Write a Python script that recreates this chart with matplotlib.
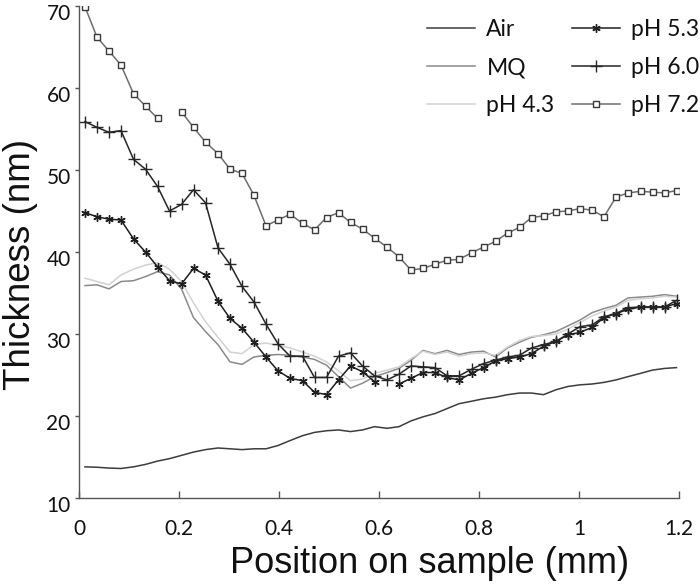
import numpy as np
import matplotlib
matplotlib.use("Agg")
import matplotlib.pyplot as plt
import matplotlib.transforms as mtransforms

# ---------------- data ----------------
position_mm = [0.012, 0.036, 0.060, 0.084, 0.109, 0.133, 0.157, 0.181, 0.205, 0.229,
               0.253, 0.278, 0.302, 0.326, 0.350, 0.374, 0.398, 0.422, 0.447, 0.471,
               0.495, 0.519, 0.543, 0.567, 0.591, 0.616, 0.640, 0.664, 0.688, 0.712,
               0.736, 0.760, 0.785, 0.809, 0.833, 0.857, 0.881, 0.905, 0.929, 0.954,
               0.978, 1.002, 1.026, 1.050, 1.074, 1.098, 1.123, 1.147, 1.171, 1.195]

air = [13.8, 13.75, 13.65, 13.6, 13.8, 14.1, 14.5, 14.8, 15.2, 15.6,
       15.9, 16.1, 16.0, 15.9, 16.0, 16.0, 16.4, 17.0, 17.6, 18.0,
       18.2, 18.3, 18.1, 18.3, 18.7, 18.5, 18.7, 19.4, 19.9, 20.3,
       20.9, 21.5, 21.8, 22.1, 22.3, 22.6, 22.8, 22.8, 22.6, 23.2,
       23.6, 23.8, 23.9, 24.1, 24.4, 24.8, 25.2, 25.6, 25.8, 25.9]

mq = [35.9, 36.0, 35.5, 36.4, 36.5, 37.0, 37.6, 37.2, 35.5, 32.0,
      30.3, 28.7, 26.6, 26.3, 27.2, 27.4, 27.5, 27.4, 27.2, 26.9,
      26.2, 24.8, 23.4, 24.0, 24.8, 25.3, 25.8, 26.8, 28.0, 27.6,
      28.0, 27.5, 27.8, 27.9, 27.2, 28.3, 29.0, 29.6, 29.9, 30.3,
      31.0, 31.7, 32.6, 33.1, 33.5, 34.4, 34.5, 34.6, 34.8, 34.6]

ph43 = [36.8, 36.4, 36.0, 37.2, 37.9, 38.4, 38.7, 37.9, 36.4, 33.8,
        31.5, 29.6, 27.8, 27.6, 28.7, 28.9, 28.6, 28.3, 27.8, 27.3,
        26.6, 25.5, 24.3, 24.5, 25.2, 25.6, 26.0, 27.0, 27.9, 27.5,
        27.8, 27.3, 27.6, 27.7, 27.4, 28.4, 29.2, 29.7, 29.8, 30.0,
        30.6, 31.4, 32.2, 32.8, 33.3, 34.1, 34.3, 34.4, 34.6, 34.5]

ph53 = [44.8, 44.3, 44.0, 43.9, 41.6, 40.0, 38.2, 36.5, 36.1, 38.0,
        37.2, 34.0, 31.9, 30.7, 29.0, 27.2, 25.5, 24.6, 24.3, 22.9,
        22.6, 24.4, 26.1, 25.4, 24.2, np.nan, 23.9, 24.6, 25.3, 25.3,
        24.7, 24.4, 25.2, 25.9, 26.7, 27.0, 27.2, 27.6, 28.5, 29.1,
        29.9, 30.2, 30.8, 32.0, 32.5, 33.0, 33.3, 33.3, 33.3, 33.7]

ph60 = [55.9, 55.2, 54.6, 54.8, 51.3, 50.1, 48.0, 45.0, 45.8, 47.6,
        46.0, 40.5, 38.5, 35.8, 33.9, 31.2, 28.8, 27.3, 27.3, 24.7,
        24.7, 27.3, 27.7, 26.1, 24.9, 24.4, 25.1, 26.1, 26.0, 25.9,
        24.9, 24.9, 25.7, 26.4, 26.8, 27.2, 27.4, 28.3, 28.7, 29.1,
        30.0, 30.9, 31.1, 32.1, 32.5, 33.2, 33.3, 33.3, 33.3, 34.1]

ph72 = [69.9, 66.2, 64.5, 62.8, 59.3, 57.8, 56.3, np.nan, 57.1, 55.2,
        53.4, 52.0, 50.1, 49.6, 46.9, 43.2, 43.9, 44.6, 43.5, 42.7,
        44.2, 44.8, 43.6, 42.8, 41.7, 40.6, 39.4, 37.8, 38.0, 38.5,
        39.0, 39.1, 39.9, 40.6, 41.3, 42.3, 43.0, 44.2, 44.4, 44.9,
        45.0, 45.3, 45.1, 44.3, 46.7, 47.2, 47.4, 47.3, 47.2, 47.5]

series_labels = ["Air", "MQ", "pH 4.3", "pH 5.3", "pH 6.0", "pH 7.2"]
x_ticks = [0, 0.2, 0.4, 0.6, 0.8, 1.0, 1.2]
x_tick_labels = ["0", "0.2", "0.4", "0.6", "0.8", "1", "1.2"]
y_ticks = [10, 20, 30, 40, 50, 60, 70]
y_tick_labels = ["10", "20", "30", "40", "50", "60", "70"]

# ---------------- figure ----------------
fig = plt.figure(figsize=(7.0, 5.85), dpi=100)
ax = fig.add_axes([79/700, 1 - 498/585, 600/700, 492/585])

tick_font = "Lato"
label_font = "Liberation Sans"

ax.plot(position_mm, air, color="#3c3c3c", lw=1.1, label=series_labels[0])
ax.plot(position_mm, mq, color="#8a8a8a", lw=1.1, label=series_labels[1])
ax.plot(position_mm, ph43, color="#d2d2d2", lw=1.1, label=series_labels[2])
ax.plot(position_mm, ph53, color="#1e1e1e", lw=1.1, marker=(6, 2, 0),
        ms=6, mew=1.0, mec="#1e1e1e", label=series_labels[3])
ax.plot(position_mm, ph60, color="#262626", lw=1.1, marker="+",
        ms=8, mew=1.0, label=series_labels[4])
ax.plot(position_mm, ph72, color="#6e6e6e", lw=1.1, marker="s",
        ms=5, mew=1.0, mfc="white", mec="#3a3a3a", label=series_labels[5])

ax.set_xlim(0, 1.2)
ax.set_ylim(10, 70)
ax.set_xticks(x_ticks)
ax.set_xticklabels(x_tick_labels, fontfamily=tick_font, fontsize=15)
ax.set_yticks(y_ticks)
ax.set_yticklabels(y_tick_labels, fontfamily=tick_font, fontsize=15)

for s in ["top", "right"]:
    ax.spines[s].set_visible(False)
for s in ["left", "bottom"]:
    ax.spines[s].set_color("#555555")
    ax.spines[s].set_linewidth(1.0)

ax.tick_params(axis="x", direction="in", length=5, width=1.0, color="#555555",
               pad=15, labelcolor="#111111")
ax.tick_params(axis="y", direction="out", length=3, width=1.0, color="#555555",
               pad=3, labelcolor="#111111")

off = mtransforms.ScaledTranslation(0, -4/72, fig.dpi_scale_trans)
for lab in ax.get_yticklabels():
    lab.set_transform(lab.get_transform() + off)

ax.set_xlabel("Position on sample (mm)", fontfamily=label_font, fontsize=26,
              color="#111111", va="top")
ax.xaxis.set_label_coords((430 - 79) / 600, (498 - 546) / 492)
ax.set_ylabel("Thickness (nm)", fontfamily=label_font, fontsize=26.5,
              color="#111111", va="center")
ax.yaxis.set_label_coords((21 - 79) / 600, (498 - 264) / 492)

leg = ax.legend(loc="upper right", bbox_to_anchor=(699/700, 1 - 19/585),
                bbox_transform=fig.transFigure, ncol=2, frameon=False,
                prop={"family": tick_font, "size": 16.5}, handlelength=2.1,
                handletextpad=0.48, columnspacing=0.75, labelspacing=0.75,
                borderaxespad=0, borderpad=0, numpoints=1)
for t in leg.get_texts():
    t.set_color("#111111")

fig.savefig("out.png", dpi=100)
